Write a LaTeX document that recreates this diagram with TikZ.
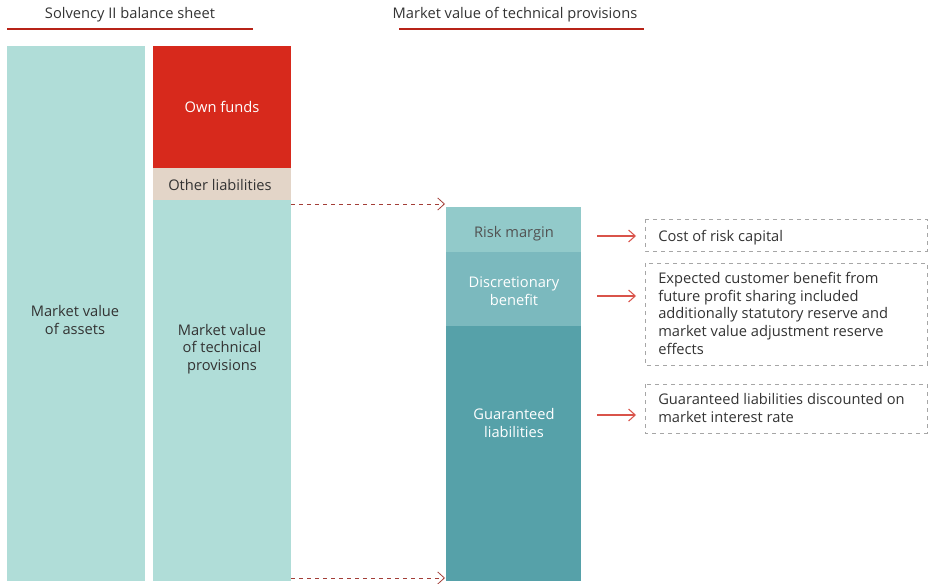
\documentclass[tikz,border=0pt]{standalone}
\usepackage{fontspec}
\setmainfont{Open Sans}
\usetikzlibrary{arrows.meta}
\definecolor{lteal}{HTML}{B0DDD8}
\definecolor{ownred}{HTML}{D7291C}
\definecolor{beige}{HTML}{E3D5C8}
\definecolor{rmteal}{HTML}{92CACA}
\definecolor{dbteal}{HTML}{7BB9BE}
\definecolor{glteal}{HTML}{56A1A9}
\definecolor{txt}{HTML}{333333}
\definecolor{arrred}{HTML}{D9534A}
\tikzset{
  blk/.style={draw=none, inner sep=0pt, align=center, font=\fontsize{11}{13.3}\selectfont},
  ttl/.style={font=\fontsize{11}{13.3}\selectfont, text=txt},
  uline/.style={draw=ownred!85!black, line width=2.2pt},
  dasharr/.style={draw=arrred!75!black, dashed, line width=0.6pt, -{Straight Barb[length=5pt,width=9pt]}},
  redarr/.style={draw=arrred, line width=0.8pt, -{Straight Barb[length=5pt,width=9pt]}},
  notebox/.style={draw=gray!70, dashed, line width=0.5pt},
  note/.style={align=left, text=txt, anchor=north west, inner sep=0pt, font=\fontsize{11}{13.3}\selectfont}
}
\begin{document}
\begin{tikzpicture}[x=0.75pt,y=-0.75pt]
\useasboundingbox (0,0) rectangle (930,584);
% titles
\node[ttl] (t1) at (130,15) {Solvency II balance sheet};
\node[ttl] (t2) at (515,15) {Market value of technical provisions};
\draw[uline] (7,29) -- (253,29);
\draw[uline] (399,29) -- (644,29);
% left columns
\fill[lteal] (7,46) rectangle (145,581);
\node[blk, text=txt] (assets) at (75,320) {Market value\\of assets};
\fill[ownred] (153,46) rectangle (291,168);
\node[blk, text=white] (own) at (222,107) {Own funds};
\fill[beige] (153,168) rectangle (291,200);
\node[blk, text=txt] (other) at (220,185) {Other liabilities};
\fill[lteal] (153,200) rectangle (291,581);
\node[blk, text=txt] (tp) at (222,349) {Market value\\of technical\\provisions};
% right column
\fill[rmteal] (446,207) rectangle (581,252);
\node[blk, text=txt!85] (rm) at (514,234) {Risk margin};
\fill[dbteal] (446,252) rectangle (581,326);
\node[blk, text=white] (db) at (514,291) {Discretionary\\benefit};
\fill[glteal] (446,326) rectangle (581,581);
\node[blk, text=white] (gl) at (514,423) {Guaranteed\\liabilities};
% dashed connectors
\coordinate (a1s) at (291,204);
\coordinate (a1e) at (445,204);
\coordinate (a2s) at (291,578);
\coordinate (a2e) at (445,578);
\draw[dasharr] (a1s) -- (a1e);
\draw[dasharr] (a2s) -- (a2e);
% notes
\draw[notebox] (645,219) rectangle (927,251);
\node[note] (n1) at (658,230) {Cost of risk capital};
\draw[notebox] (645,263) rectangle (927,365);
\node[note] (n2) at (658,272) {Expected customer benefit from\\future profit sharing included\\additionally statutory reserve and\\market value adjustment reserve\\effects};
\draw[notebox] (645,384) rectangle (927,433);
\node[note] (n3) at (658,393) {Guaranteed liabilities discounted on\\market interest rate};
% red arrows
\coordinate (r1s) at (597,236); \coordinate (r1e) at (636,236);
\coordinate (r2s) at (597,296); \coordinate (r2e) at (636,296);
\coordinate (r3s) at (597,415); \coordinate (r3e) at (636,415);
\draw[redarr] (r1s) -- (r1e);
\draw[redarr] (r2s) -- (r2e);
\draw[redarr] (r3s) -- (r3e);
\end{tikzpicture}
\end{document}
